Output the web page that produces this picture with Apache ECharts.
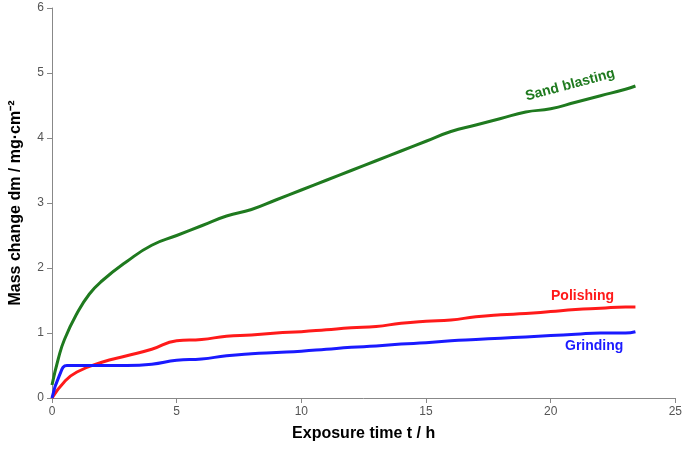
<!DOCTYPE html>
<html>
<head>
<meta charset="utf-8">
<script src="https://cdn.jsdelivr.net/npm/echarts@6/dist/echarts.min.js"></script>
<style>html,body{margin:0;padding:0;background:#fff}#main{width:685px;height:455px}</style>
</head>
<body>
<div id="main"></div>
<script>
// values
var sandBlasting = [[0,0.2],[0.25,0.6],[0.5,0.9],[1,1.3],[1.5,1.6],[2,1.8],[3,2.1],[4,2.35],[5,2.5],[6,2.65],[7,2.8],[8,2.9],[9,3.05],[10,3.2],[11,3.35],[12,3.5],[13,3.65],[14,3.8],[15,3.95],[16,4.1],[17,4.2],[18,4.3],[19,4.4],[20,4.45],[21,4.55],[22,4.65],[23,4.75],[23.4,4.8]];
var polishing = [[0,0],[0.5,0.25],[1,0.4],[2,0.55],[3,0.65],[4,0.75],[5,0.88],[6,0.9],[7,0.95],[8,0.97],[9,1.0],[10,1.02],[11,1.05],[12,1.08],[13,1.1],[14,1.15],[15,1.18],[16,1.2],[17,1.25],[18,1.28],[19,1.3],[20,1.33],[21,1.36],[22,1.38],[23,1.4],[23.4,1.4]];
var grinding = [[0,0],[0.3,0.35],[0.6,0.5],[1,0.5],[2,0.5],[3,0.5],[4,0.52],[5,0.58],[6,0.6],[7,0.65],[8,0.68],[9,0.7],[10,0.72],[11,0.75],[12,0.78],[13,0.8],[14,0.83],[15,0.85],[16,0.88],[17,0.9],[18,0.92],[19,0.94],[20,0.96],[21,0.98],[22,1.0],[23,1.0],[23.4,1.02]];

var chart = echarts.init(document.getElementById('main'));
var axisStyle = {
  axisLine: {show: true, lineStyle: {color: '#888'}},
  axisTick: {show: true, inside: false, lineStyle: {color: '#888'}},
  axisLabel: {color: '#555', fontSize: 12, fontFamily: 'Liberation Sans'},
  splitLine: {show: false},
  nameTextStyle: {color: '#000', fontSize: 16, fontWeight: 'bold', fontFamily: 'Liberation Sans'}
};
function line(name, data, color) {
  return {name: name, type: 'line', data: data, showSymbol: false, smooth: true,
    lineStyle: {color: color, width: 3}};
}
chart.setOption({
  animation: false,
  grid: {left: 52, right: 9, top: 8, bottom: 57},
  xAxis: Object.assign({type: 'value', min: 0, max: 25, interval: 5,
    name: 'Exposure time t / h', nameLocation: 'middle', nameGap: 28}, axisStyle),
  yAxis: Object.assign({type: 'value', min: 0, max: 6, interval: 1,
    name: 'Mass change dm / mg·cm⁻²', nameLocation: 'middle', nameGap: 28}, axisStyle),
  series: [
    line('Sand blasting', sandBlasting, '#1f7a1f'),
    line('Polishing', polishing, '#ff1a1a'),
    line('Grinding', grinding, '#1a1aff')
  ],
  graphic: [
    {type: 'text', x: 524, y: 90, rotation: 0.26,
      style: {text: 'Sand blasting', fill: '#1f7a1f', font: 'bold 14px Liberation Sans'}},
    {type: 'text', x: 551, y: 289,
      style: {text: 'Polishing', fill: '#ff1a1a', font: 'bold 14px Liberation Sans'}},
    {type: 'text', x: 565, y: 339,
      style: {text: 'Grinding', fill: '#1a1aff', font: 'bold 14px Liberation Sans'}}
  ]
});
</script>
</body>
</html>
